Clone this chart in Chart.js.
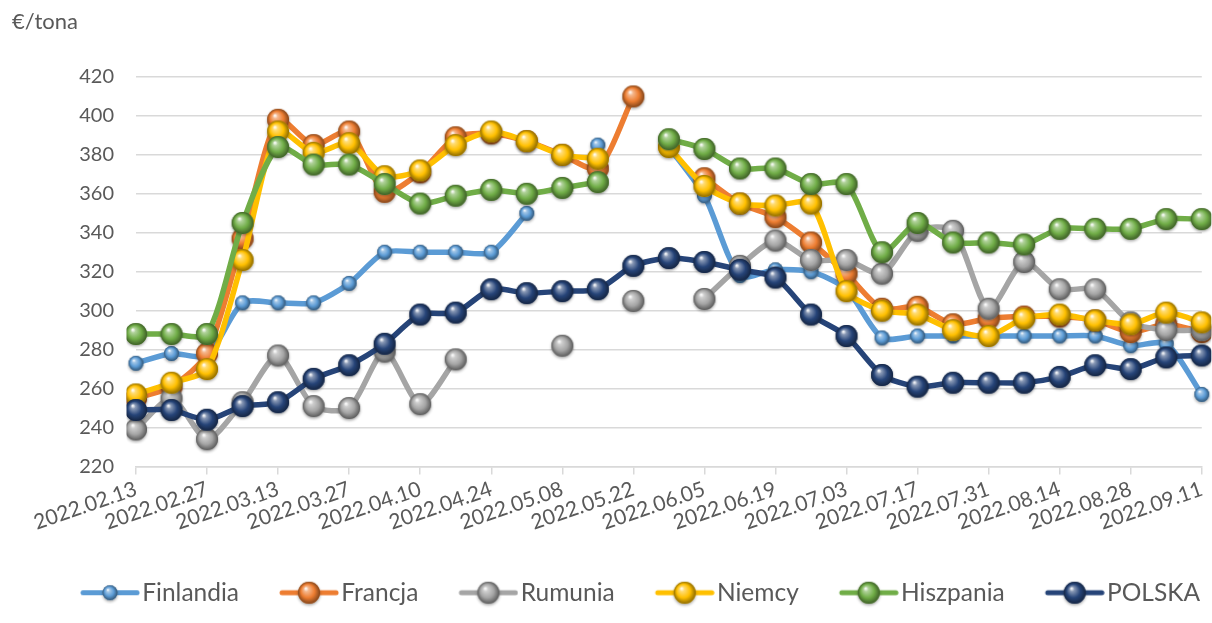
<!DOCTYPE html>
<html>
<head>
  <script src="https://cdn.jsdelivr.net/npm/chart.js"></script>
  <style>
    body { margin: 0; background: #fff; }
    #wrap { width: 1212px; height: 623px; }
  </style>
</head>
<body>
  <div id="wrap"><canvas id="priceChart" width="1212" height="623"></canvas></div>

  <script>
    // weekly dates (labels shown every second week)
    var weeks = ['2022.02.13', '2022.02.20', '2022.02.27', '2022.03.06', '2022.03.13', '2022.03.20',
      '2022.03.27', '2022.04.03', '2022.04.10', '2022.04.17', '2022.04.24', '2022.05.01',
      '2022.05.08', '2022.05.15', '2022.05.22', '2022.05.29', '2022.06.05', '2022.06.12',
      '2022.06.19', '2022.06.26', '2022.07.03', '2022.07.10', '2022.07.17', '2022.07.24',
      '2022.07.31', '2022.08.07', '2022.08.14', '2022.08.21', '2022.08.28', '2022.09.04', '2022.09.11'];

    var finlandia = [273, 278, 277, 304, 304, 304, 314, 330, 330, 330, 330, 350, null, 385, null, 384,
      359, 318, 321, 320, 311, 286, 287, 287, 287, 287, 287, 287, 282, 283, 257];
    var francja = [255, 261, 278, 337, 398, 385, 392, 361, 371, 389, 391, 387, 380, 373, 410, null,
      368, 355, 348, 335, 319, 301, 302, 293, 296, 297, 297, 295, 289, 293, 289];
    var rumunia = [239, 255, 234, 253, 277, 251, 250, 279, 252, 275, null, null, 282, null, 305, null,
      306, 323, 336, 326, 326, 319, 341, 341, 301, 325, 311, 311, 294, 290, 290];
    var niemcy = [257, 263, 270, 326, 392, 381, 386, 369, 372, 385, 392, 387, 380, 378, null, 384,
      364, 355, 354, 355, 310, 300, 298, 290, 287, 296, 298, 295, 293, 299, 294];
    var hiszpania = [288, 288, 288, 345, 384, 375, 375, 365, 355, 359, 362, 360, 363, 366, null, 388,
      383, 373, 373, 365, 365, 330, 345, 335, 335, 334, 342, 342, 342, 347, 347];
    var polska = [249, 249, 244, 251, 253, 265, 272, 283, 298, 299, 311, 309, 310, 311, 323, 327,
      325, 321, 317, 298, 287, 267, 261, 263, 263, 263, 266, 272, 270, 276, 277];

    var seriesNames = ['Finlandia', 'Francja', 'Rumunia', 'Niemcy', 'Hiszpania', 'POLSKA'];
    var seriesColors = ['#5B9BD5', '#ED7D31', '#A5A5A5', '#FFC000', '#70AD47', '#264478'];

    var textColor = '#595959';
    var gridColor = '#d9d9d9';
    var fontFamily = 'Lato, "Open Sans", sans-serif';

    var legendFont = 24.5;
    var legendBox = 87;   // space kept for the legend symbol
    var legendLine = 60;  // visible line length in the legend

    function mix(hex, target, t) {
      var r = parseInt(hex.substr(1, 2), 16), g = parseInt(hex.substr(3, 2), 16), b = parseInt(hex.substr(5, 2), 16);
      r = Math.round(r + (target - r) * t);
      g = Math.round(g + (target - g) * t);
      b = Math.round(b + (target - b) * t);
      return 'rgb(' + r + ',' + g + ',' + b + ')';
    }

    function paintBall(ctx, cx, cy, d, color) {
      var r = d / 2;
      ctx.save();
      ctx.shadowColor = 'rgba(0,0,0,0.35)';
      ctx.shadowBlur = 3;
      ctx.shadowOffsetY = 1.5;
      ctx.fillStyle = color;
      ctx.beginPath();
      ctx.arc(cx, cy, r, 0, Math.PI * 2);
      ctx.fill();
      ctx.restore();
      var grad = ctx.createRadialGradient(cx - r * 0.3, cy - r * 0.4, r * 0.05, cx, cy, r);
      grad.addColorStop(0, 'rgba(255,255,255,0.95)');
      grad.addColorStop(0.18, mix(color, 255, 0.45));
      grad.addColorStop(0.6, color);
      grad.addColorStop(1, mix(color, 0, 0.45));
      ctx.fillStyle = grad;
      ctx.beginPath();
      ctx.arc(cx, cy, r, 0, Math.PI * 2);
      ctx.fill();
    }

    function makeBall(color, d) {
      var c = document.createElement('canvas');
      c.width = d + 8; c.height = d + 8;
      paintBall(c.getContext('2d'), c.width / 2, c.height / 2, d, color);
      return c;
    }

    // legend symbol: line with a ball, pushed to the right end of the image
    function makeLegendSymbol(color, d) {
      var c = document.createElement('canvas');
      c.width = Math.round(legendBox + legendFont / 2 - 2) * 2 - legendBox;
      c.height = d + 8;
      var ctx = c.getContext('2d');
      var right = c.width, cy = c.height / 2;
      ctx.strokeStyle = color;
      ctx.lineWidth = 5;
      ctx.lineCap = 'round';
      ctx.beginPath();
      ctx.moveTo(right - legendLine + 3, cy);
      ctx.lineTo(right - 3, cy);
      ctx.stroke();
      paintBall(ctx, right - legendLine / 2, cy, d, color);
      return c;
    }

    var allData = [finlandia, francja, rumunia, niemcy, hiszpania, polska];
    var datasets = allData.map(function(values, i) {
      var size = i === 0 ? 15 : 22;
      return {
        label: seriesNames[i],
        data: values,
        borderColor: seriesColors[i],
        backgroundColor: seriesColors[i],
        borderWidth: 5.5,
        borderCapStyle: 'round',
        borderJoinStyle: 'round',
        tension: 0.25,
        spanGaps: false,
        pointStyle: makeBall(seriesColors[i], size),
        legendStyle: makeLegendSymbol(seriesColors[i], size),
        order: allData.length - i
      };
    });

    var chart = new Chart(document.getElementById('priceChart'), {
      type: 'line',
      data: { labels: weeks, datasets: datasets },
      options: {
        responsive: false,
        animation: false,
        events: [],
        layout: { padding: { left: 12, right: 9, top: 0, bottom: 8 } },
        scales: {
          x: {
            offset: false,
            grid: {
              drawOnChartArea: false,
              color: gridColor,
              lineWidth: 1.5,
              tickLength: 8
            },
            border: { display: true, color: gridColor, width: 1.5 },
            ticks: {
              autoSkip: false,
              minRotation: 19,
              maxRotation: 19,
              padding: 2,
              color: textColor,
              font: { family: fontFamily, size: 21 },
              callback: function(value, index) {
                return index % 2 === 0 ? weeks[index] : null;
              }
            },
            afterFit: function(scale) { scale.height = 111; }
          },
          y: {
            min: 220,
            max: 420,
            grid: { color: gridColor, lineWidth: 1.5, drawTicks: false },
            border: { display: false },
            ticks: {
              stepSize: 20,
              padding: 22,
              color: textColor,
              font: { family: fontFamily, size: 20 }
            },
            afterFit: function(scale) { scale.width = 124; }
          }
        },
        plugins: {
          tooltip: { enabled: false },
          title: {
            display: true,
            text: '€/tona',
            align: 'start',
            color: textColor,
            font: { family: fontFamily, size: 22, weight: 'normal' },
            padding: { top: 9, bottom: 41.5 }
          },
          legend: {
            position: 'bottom',
            align: 'end',
            labels: {
              usePointStyle: true,
              pointStyleWidth: legendBox,
              padding: 3,
              color: textColor,
              font: { family: fontFamily, size: legendFont },
              sort: function(a, b) { return a.datasetIndex - b.datasetIndex; },
              generateLabels: function(ch) {
                return ch.data.datasets.map(function(ds, i) {
                  return {
                    text: ds.label,
                    fillStyle: ds.borderColor,
                    strokeStyle: ds.borderColor,
                    lineWidth: 0,
                    pointStyle: ds.legendStyle,
                    fontColor: textColor,
                    hidden: false,
                    datasetIndex: i
                  };
                });
              }
            }
          }
        }
      }
    });
  </script>
</body>
</html>
